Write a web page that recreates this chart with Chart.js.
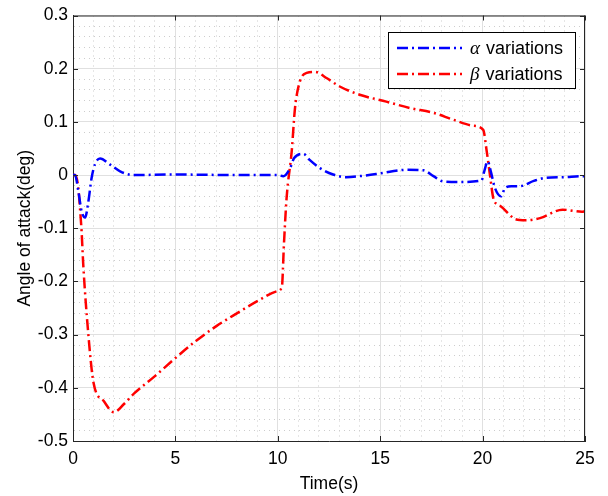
<!DOCTYPE html>
<html>
<head>
<meta charset="utf-8">
<script src="https://cdn.jsdelivr.net/npm/chart.js@4.4.0/dist/chart.umd.min.js"></script>
<style>
  html, body { margin: 0; padding: 0; background: #fff; }
  #wrap { width: 608px; height: 496px; }
</style>
</head>
<body>
<div id="wrap"><canvas id="aoa" width="608" height="496"></canvas></div>
<script>
// values
const alphaTime = [0, 0.1, 0.26, 0.42, 0.59, 0.75, 0.91, 1.07, 1.32, 1.8, 2.3, 2.94, 5, 8, 10, 10.27, 10.6, 10.8, 11.25, 11.54, 12.06, 12.7, 13.36, 14.0, 14.8, 15.6, 16.3, 17.1, 17.6, 18.07, 18.9, 19.95, 20.08, 20.25, 20.4, 20.6, 20.9, 21.1, 21.4, 21.8, 22.5, 23.1, 23.9, 24.9, 25];
const alphaVals = [0, 0, -0.03, -0.068, -0.08, -0.05, -0.005, 0.02, 0.031, 0.02, 0.007, 0, 0.001, 0, 0, -0.002, 0.013, 0.032, 0.04, 0.029, 0.013, 0.001, -0.004, -0.002, 0.002, 0.007, 0.01, 0.009, -0.002, -0.012, -0.013, -0.01, 0.007, 0.026, 0.007, -0.024, -0.04, -0.024, -0.021, -0.021, -0.011, -0.005, -0.004, -0.002, -0.002];

const betaTime = [0, 0.1, 0.26, 0.34, 0.42, 0.5, 0.75, 1.0, 1.5, 2.0, 2.5, 3, 4, 5, 6, 7, 8, 9, 10, 10.2, 10.3, 10.43, 10.68, 10.84, 11.08, 11.41, 11.82, 12.4, 13.0, 14.0, 15.3, 16.45, 17.6, 18.57, 19.5, 20.03, 20.2, 20.36, 20.52, 20.7, 20.9, 21.3, 21.6, 22.1, 22.8, 23.9, 24.85, 25];
const betaVals = [0, 0, -0.024, -0.062, -0.106, -0.168, -0.3, -0.39, -0.425, -0.446, -0.43, -0.41, -0.378, -0.344, -0.312, -0.284, -0.26, -0.237, -0.218, -0.21, -0.13, -0.043, 0.045, 0.126, 0.176, 0.192, 0.194, 0.182, 0.167, 0.151, 0.138, 0.126, 0.117, 0.104, 0.093, 0.085, 0.045, 0.0, -0.043, -0.055, -0.059, -0.074, -0.083, -0.085, -0.081, -0.065, -0.069, -0.068];

const seriesNames = ['α', 'β'];
const xTickLabels = [0, 5, 10, 15, 20, 25];
const yTickLabels = [-0.5, -0.4, -0.3, -0.2, -0.1, 0, 0.1, 0.2, 0.3];

const FONT = 'Arial, "Liberation Sans", Helvetica, sans-serif';
const AXIS_COLOR = '#262626';

const toPts = (xs, ys) => xs.map((x, i) => ({ x: x, y: ys[i] }));
const isMajorX = v => xTickLabels.some(t => Math.abs(t - v) < 1e-6);
const isMajorY = v => yTickLabels.some(t => Math.abs(t - v) < 1e-6);

// inward tick marks, top/right box edges and the boxed legend
const matlabBox = {
  id: 'matlabBox',
  afterDraw(chart) {
    const c = chart.ctx, a = chart.chartArea;
    const xs = chart.scales.x, ys = chart.scales.y;
    c.save();
    c.strokeStyle = AXIS_COLOR;
    c.lineWidth = 1;
    c.beginPath();
    c.moveTo(a.left, a.top + 0.5); c.lineTo(a.right, a.top + 0.5);
    c.moveTo(a.right - 0.5, a.top); c.lineTo(a.right - 0.5, a.bottom);
    xTickLabels.forEach(v => {
      const px = Math.round(xs.getPixelForValue(v)) + 0.5;
      c.moveTo(px, a.bottom); c.lineTo(px, a.bottom - 5);
      c.moveTo(px, a.top); c.lineTo(px, a.top + 5);
    });
    yTickLabels.forEach(v => {
      const py = Math.round(ys.getPixelForValue(v)) + 0.5;
      c.moveTo(a.left, py); c.lineTo(a.left + 5, py);
      c.moveTo(a.right, py); c.lineTo(a.right - 5, py);
    });
    c.stroke();

    // legend
    const bx = 388, by = 32, bw = 187, bh = 56;
    c.fillStyle = '#fff';
    c.fillRect(bx, by, bw, bh);
    c.strokeStyle = '#000';
    c.lineWidth = 1;
    c.strokeRect(bx + 0.5, by + 0.5, bw, bh);
    chart.data.datasets.forEach((ds, i) => {
      const y = by + 16 + i * 26;
      c.strokeStyle = ds.borderColor;
      c.lineWidth = ds.borderWidth;
      c.setLineDash(ds.borderDash);
      c.beginPath();
      c.moveTo(397, y); c.lineTo(462, y);
      c.stroke();
      c.setLineDash([]);
      c.fillStyle = '#000';
      c.textBaseline = 'middle';
      c.font = 'italic 19px "Liberation Serif", "DejaVu Serif", serif';
      c.fillText(seriesNames[i], 470, y + 1);
      const w = c.measureText(seriesNames[i]).width;
      c.font = '18px ' + FONT;
      c.fillText(' variations', 470 + w + 1, y + 1);
    });
    c.restore();
  }
};

const ctx = document.getElementById('aoa').getContext('2d');
new Chart(ctx, {
  type: 'line',
  data: {
    datasets: [{
      label: seriesNames[0] + ' variations',
      data: toPts(alphaTime, alphaVals),
      borderColor: '#0000ff',
      borderWidth: 2.5,
      borderDash: [11, 4, 2, 4],
      pointRadius: 0,
      fill: false,
      cubicInterpolationMode: 'monotone'
    }, {
      label: seriesNames[1] + ' variations',
      data: toPts(betaTime, betaVals),
      borderColor: '#ff0000',
      borderWidth: 2.5,
      borderDash: [11, 4, 2, 4],
      pointRadius: 0,
      fill: false,
      cubicInterpolationMode: 'monotone'
    }]
  },
  options: {
    responsive: false,
    animation: false,
    layout: { padding: { top: 14, right: 23, left: 0, bottom: 0 } },
    plugins: { legend: { display: false }, tooltip: { enabled: false } },
    scales: {
      x: {
        type: 'linear',
        min: 0, max: 25,
        afterFit: s => { s.height = 55; },
        ticks: {
          stepSize: 1, autoSkip: false, maxRotation: 0, padding: 8,
          color: '#000', font: { family: FONT, size: 17.5 },
          callback: v => isMajorX(v) ? String(v) : ''
        },
        grid: {
          drawTicks: false,
          color: c => isMajorX(c.tick.value) ? '#e0e0e0' : '#cdcdcd',
          lineWidth: 1
        },
        border: {
          color: AXIS_COLOR, width: 1,
          dash: c => (c.tick && !isMajorX(c.tick.value)) ? [1, 4] : []
        },
        title: {
          display: true, text: 'Time(s)', color: '#000',
          font: { family: FONT, size: 17.5 },
          padding: { top: 0, bottom: 1 }
        }
      },
      y: {
        type: 'linear',
        min: -0.5, max: 0.3,
        afterFit: s => { s.width = 73; },
        ticks: {
          stepSize: 0.02, autoSkip: false, padding: 5,
          color: '#000', font: { family: FONT, size: 17.5 },
          callback: v => isMajorY(v) ? String(Math.round(v * 10) / 10) : ''
        },
        grid: {
          drawTicks: false,
          color: c => isMajorY(c.tick.value) ? '#e0e0e0' : '#cdcdcd',
          lineWidth: 1
        },
        border: {
          color: AXIS_COLOR, width: 1,
          dash: c => (c.tick && !isMajorY(c.tick.value)) ? [1, 4] : []
        },
        title: {
          display: true, text: 'Angle of attack(deg)', color: '#000',
          font: { family: FONT, size: 17.5 },
          padding: { top: 15, bottom: 0 }
        }
      }
    }
  },
  plugins: [matlabBox]
});
</script>
</body>
</html>
